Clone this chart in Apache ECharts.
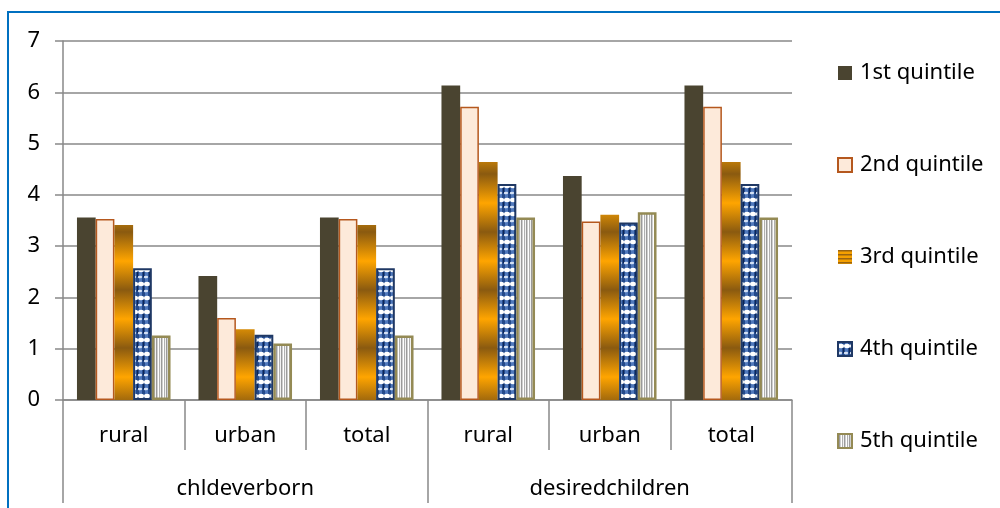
<!DOCTYPE html>
<html>
<head>
<meta charset="utf-8">
<script src="https://cdn.jsdelivr.net/npm/echarts@6/dist/echarts.min.js"></script>
<style>
html,body{margin:0;padding:0;background:#fff;}
#c{width:1000px;height:508px;}
</style>
</head>
<body>
<div id="c"></div>
<script>
// ---- data ----
var subCategories = ['rural', 'urban', 'total', 'rural', 'urban', 'total'];
var groupCategories = ['chldeverborn', 'desiredchildren'];
var seriesNames = ['1st quintile', '2nd quintile', '3rd quintile', '4th quintile', '5th quintile'];
var q1 = [3.56, 2.42, 3.56, 6.13, 4.37, 6.13];
var q2 = [3.53, 1.60, 3.53, 5.72, 3.48, 5.72];
var q3 = [3.41, 1.38, 3.41, 4.64, 3.61, 4.64];
var q4 = [2.57, 1.27, 2.57, 4.21, 3.46, 4.21];
var q5 = [1.26, 1.10, 1.26, 3.56, 3.66, 3.56];
var yTicks = [0, 1, 2, 3, 4, 5, 6, 7];

// ---- patterns ----
function makePattern(w, h, draw) {
  var c = document.createElement('canvas');
  c.width = w; c.height = h;
  draw(c.getContext('2d'), w, h);
  return { image: c, repeat: 'repeat' };
}
var goldBar = makePattern(4, 58, function (ctx, w, h) {
  var g = ctx.createLinearGradient(0, 0, 0, h);
  g.addColorStop(0, '#8A5A10');
  g.addColorStop(0.5, '#FFA500');
  g.addColorStop(1, '#8A5A10');
  ctx.fillStyle = g; ctx.fillRect(0, 0, w, h);
});
var goldLegend = makePattern(4, 4, function (ctx, w, h) {
  ctx.fillStyle = '#F5A000'; ctx.fillRect(0, 0, w, h);
  ctx.fillStyle = '#9A6410'; ctx.fillRect(0, 0, w, 1.5);
});
var bluePat = makePattern(6, 14, function (ctx, w, h) {
  ctx.fillStyle = '#23498A'; ctx.fillRect(0, 0, w, h);
  ctx.fillStyle = '#4F78BC'; ctx.fillRect(1, 0, 3, h);
  ctx.fillStyle = '#FFFFFF';
  ctx.beginPath(); ctx.ellipse(3, 4, 3, 2.2, 0, 0, Math.PI * 2); ctx.fill();
  ctx.fillStyle = '#D5E1F4';
  ctx.beginPath(); ctx.ellipse(2, 11, 2.2, 1.3, 0, 0, Math.PI * 2); ctx.fill();
  ctx.fillStyle = '#0E2656'; ctx.fillRect(5, 6, 1, 5);
});
var greyPat = makePattern(5, 2, function (ctx, w, h) {
  var cols = ['#F2F2F2', '#9A9A9A', '#CFCFCF', '#FFFFFF', '#B0B0B0'];
  for (var i = 0; i < cols.length; i++) { ctx.fillStyle = cols[i]; ctx.fillRect(i, 0, 1, h); }
});

var FONT = 'Noto Sans';
var FS = 22;
var chart = echarts.init(document.getElementById('c'));
var axisGrey = '#898989';

function bar(name, data, style) {
  return {
    name: name, type: 'bar', data: data,
    barGap: '0%', barCategoryGap: '23%',
    itemStyle: style, emphasis: { disabled: true }, animation: false
  };
}

chart.setOption({
  animation: false,
  graphic: [{
    type: 'rect', shape: { x: 8, y: 12, width: 1010, height: 520 },
    style: { fill: 'none', stroke: '#0070C0', lineWidth: 2 }, silent: true
  }],
  grid: { left: 63, right: 208, top: 41, bottom: 108, containLabel: false },
  legend: {
    orient: 'vertical', left: 832, top: 57, itemGap: 70,
    itemWidth: 14, itemHeight: 14,
    textStyle: { fontFamily: FONT, fontSize: FS, color: '#000', padding: [0, 0, 0, 3] },
    data: [
      { name: seriesNames[0], icon: 'rect' },
      { name: seriesNames[1], icon: 'rect' },
      { name: seriesNames[2], icon: 'rect', itemStyle: { color: goldLegend, borderWidth: 0 } },
      { name: seriesNames[3], icon: 'rect' },
      { name: seriesNames[4], icon: 'rect' }
    ]
  },
  xAxis: [{
    type: 'category', data: subCategories, position: 'bottom',
    axisLine: { lineStyle: { color: axisGrey, width: 1.5 } },
    axisTick: { show: true, interval: 0, length: 50, lineStyle: { color: axisGrey, width: 1.5 } },
    axisLabel: { interval: 0, margin: 25, fontFamily: FONT, fontSize: FS, color: '#000' }
  }, {
    type: 'category', data: groupCategories, position: 'bottom',
    axisLine: { show: false },
    axisTick: { show: true, interval: 0, length: 103, lineStyle: { color: axisGrey, width: 1.5 } },
    axisLabel: { interval: 0, margin: 78, fontFamily: FONT, fontSize: FS, color: '#000' }
  }],
  yAxis: {
    type: 'value', min: 0, max: 7, interval: 1,
    axisLine: { show: true, lineStyle: { color: axisGrey, width: 1.5 } },
    axisTick: { show: true, length: 8, lineStyle: { color: axisGrey, width: 1.5 } },
    splitLine: { lineStyle: { color: axisGrey, width: 1.5 } },
    axisLabel: {
      margin: 23, fontFamily: FONT, fontSize: FS, color: '#000',
      formatter: function (v) { return yTicks.indexOf(v) >= 0 ? String(v) : ''; }
    }
  },
  series: [
    bar(seriesNames[0], q1, { color: '#4A4430', borderColor: '#4A4430', borderWidth: 0 }),
    bar(seriesNames[1], q2, { color: '#FDEADA', borderColor: '#B5581E', borderWidth: 1.5 }),
    bar(seriesNames[2], q3, { color: goldBar, borderWidth: 0 }),
    bar(seriesNames[3], q4, { color: bluePat, borderColor: '#1F3864', borderWidth: 2 }),
    bar(seriesNames[4], q5, { color: greyPat, borderColor: '#948A54', borderWidth: 2.5 })
  ]
});
</script>
</body>
</html>
